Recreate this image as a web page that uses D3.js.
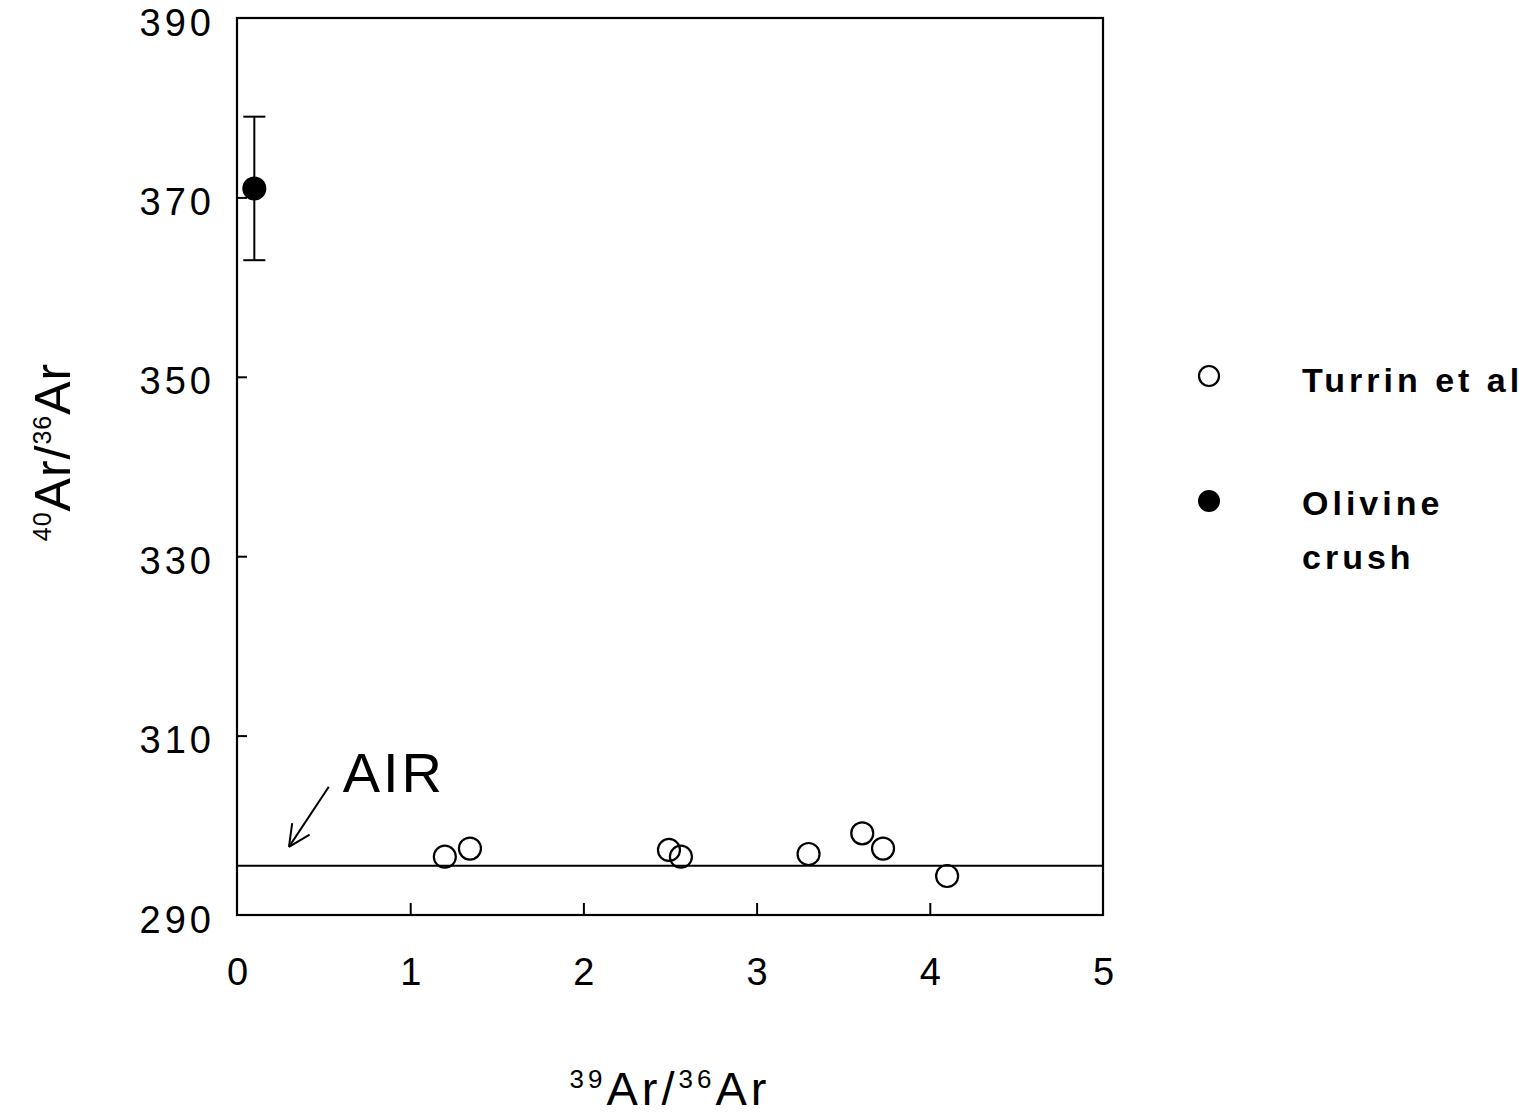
<!DOCTYPE html>
<html>
<meta charset="utf-8">
<title>40Ar/36Ar vs 39Ar/36Ar</title>
<style>
	body {
		margin: 0;
		background: #fff;
	}

	text {
		font-family: "Liberation Sans", Arial, sans-serif;
		fill: #000;
	}

	.tick text {
		font-size: 38px;
		letter-spacing: 4px;
	}

	.legend text {
		font-size: 34px;
		font-weight: bold;
		letter-spacing: 4px;
	}
</style>

<body>
	<script src="https://cdn.jsdelivr.net/npm/d3@7"></script>
	<script>
		// data
		var turrinX = [1.20, 1.345, 2.494, 2.563, 3.30, 3.61, 3.73, 4.10];
		var turrinY = [296.5, 297.4, 297.25, 296.5, 296.8, 299.1, 297.4, 294.35];

		var olivineX = [0.10];
		var olivineY = [371];
		var olivineErr = [8];

		var airRatio = 295.5;

		var xTicks = [0, 1, 2, 3, 4, 5];
		var yTicks = [290, 310, 330, 350, 370, 390];

		var width = 1534,
			height = 1120;

		var margin = {
			top: 18,
			left: 237,
			right: 431,
			bottom: 205
		};

		var svg = d3.select("body").append("svg")
			.attr("width", width)
			.attr("height", height);

		var x = d3.scaleLinear()
			.domain([0, 5])
			.range([margin.left, width - margin.right]);

		var y = d3.scaleLinear()
			.domain([290, 390])
			.range([height - margin.bottom, margin.top]);

		// frame
		svg.append("rect")
			.attr("x", x(0))
			.attr("y", y(390))
			.attr("width", x(5) - x(0))
			.attr("height", y(290) - y(390))
			.attr("fill", "none")
			.attr("stroke", "#000")
			.attr("stroke-width", 2.2);

		// axes, ticks pointing inward
		var xAxis = svg.append("g")
			.attr("transform", "translate(0," + y(290) + ")")
			.call(d3.axisBottom(x).tickValues(xTicks).tickFormat(d3.format("d"))
				.tickSizeInner(-12).tickSizeOuter(0).tickPadding(43));

		var yAxis = svg.append("g")
			.attr("transform", "translate(" + x(0) + ",0)")
			.call(d3.axisLeft(y).tickValues(yTicks).tickSizeInner(-10).tickSizeOuter(0).tickPadding(26));

		[xAxis, yAxis].forEach(function (g) {
			g.select(".domain").remove();
			g.selectAll(".tick line").attr("stroke", "#000").attr("stroke-width", 2);
			g.selectAll(".tick text").attr("font-family", null).attr("font-size", null);
		});
		// drop ticks on the frame corners
		xAxis.selectAll(".tick line").filter(function (d) { return d === 0 || d === 5; }).remove();
		yAxis.selectAll(".tick line").filter(function (d) { return d === 290 || d === 390; }).remove();
		xAxis.selectAll(".tick text").attr("dx", "2px");
		yAxis.selectAll(".tick text").attr("dx", "4px").attr("y", 5);

		// air line
		svg.append("line")
			.attr("x1", x(0))
			.attr("x2", x(5))
			.attr("y1", y(airRatio))
			.attr("y2", y(airRatio))
			.attr("stroke", "#000")
			.attr("stroke-width", 2);

		// AIR arrow
		var tip = [x(0.30), y(297.6)],
			tail = [x(0.53), y(304.3)];
		svg.append("line")
			.attr("x1", tail[0]).attr("y1", tail[1])
			.attr("x2", tip[0]).attr("y2", tip[1])
			.attr("stroke", "#000").attr("stroke-width", 2);
		var ang = Math.atan2(tail[1] - tip[1], tail[0] - tip[0]);
		[-0.45, 0.45].forEach(function (a) {
			svg.append("line")
				.attr("x1", tip[0]).attr("y1", tip[1])
				.attr("x2", tip[0] + 24 * Math.cos(ang + a))
				.attr("y2", tip[1] + 24 * Math.sin(ang + a))
				.attr("stroke", "#000").attr("stroke-width", 2);
		});
		svg.append("text")
			.attr("x", x(0.61))
			.attr("y", y(303.7))
			.attr("font-size", 56)
			.attr("letter-spacing", "3px")
			.text("AIR");

		// olivine crush with error bar
		var oliv = olivineX.map(function (d, i) {
			return { x: d, y: olivineY[i], e: olivineErr[i] };
		});
		var eb = svg.append("g");
		oliv.forEach(function (d) {
			eb.append("line")
				.attr("x1", x(d.x)).attr("x2", x(d.x))
				.attr("y1", y(d.y - d.e)).attr("y2", y(d.y + d.e))
				.attr("stroke", "#000").attr("stroke-width", 2);
			[d.y - d.e, d.y + d.e].forEach(function (v) {
				eb.append("line")
					.attr("x1", x(d.x) - 11).attr("x2", x(d.x) + 11)
					.attr("y1", y(v)).attr("y2", y(v))
					.attr("stroke", "#000").attr("stroke-width", 2);
			});
		});
		svg.selectAll(".oliv")
			.data(oliv)
			.enter().append("circle")
			.attr("class", "oliv")
			.attr("cx", function (d) { return x(d.x); })
			.attr("cy", function (d) { return y(d.y); })
			.attr("r", 12)
			.attr("fill", "#000");

		// Turrin et al points
		var turrin = turrinX.map(function (d, i) {
			return { x: d, y: turrinY[i] };
		});
		svg.selectAll(".turrin")
			.data(turrin)
			.enter().append("circle")
			.attr("class", "turrin")
			.attr("cx", function (d) { return x(d.x); })
			.attr("cy", function (d) { return y(d.y); })
			.attr("r", 11)
			.attr("fill", "none")
			.attr("stroke", "#000")
			.attr("stroke-width", 2.2);

		// axis titles
		var xt = svg.append("text")
			.attr("x", 670)
			.attr("y", 1105)
			.attr("text-anchor", "middle")
			.attr("font-size", 47)
			.attr("letter-spacing", "4px");
		xt.append("tspan").attr("font-size", 26).attr("dy", -17).text("39");
		xt.append("tspan").attr("dy", 17).text("Ar/");
		xt.append("tspan").attr("font-size", 26).attr("dy", -17).text("36");
		xt.append("tspan").attr("dy", 17).text("Ar");

		var yt = svg.append("text")
			.attr("transform", "translate(70,452) rotate(-90)")
			.attr("text-anchor", "middle")
			.attr("font-size", 50)
			.attr("letter-spacing", "1px");
		yt.append("tspan").attr("font-size", 25).attr("dy", -19).text("40");
		yt.append("tspan").attr("dy", 19).text("Ar/");
		yt.append("tspan").attr("font-size", 25).attr("dy", -19).text("36");
		yt.append("tspan").attr("dy", 19).text("Ar");

		// legend
		var legend = svg.append("g").attr("class", "legend");
		legend.append("circle")
			.attr("cx", 1209).attr("cy", 376).attr("r", 10)
			.attr("fill", "none").attr("stroke", "#000").attr("stroke-width", 2.2);
		legend.append("text").attr("x", 1302).attr("y", 392).text("Turrin et al");
		legend.append("circle")
			.attr("cx", 1209).attr("cy", 501).attr("r", 11)
			.attr("fill", "#000");
		legend.append("text").attr("x", 1302).attr("y", 515).text("Olivine");
		legend.append("text").attr("x", 1302).attr("y", 569).text("crush");
	</script>
</body>

</html>
